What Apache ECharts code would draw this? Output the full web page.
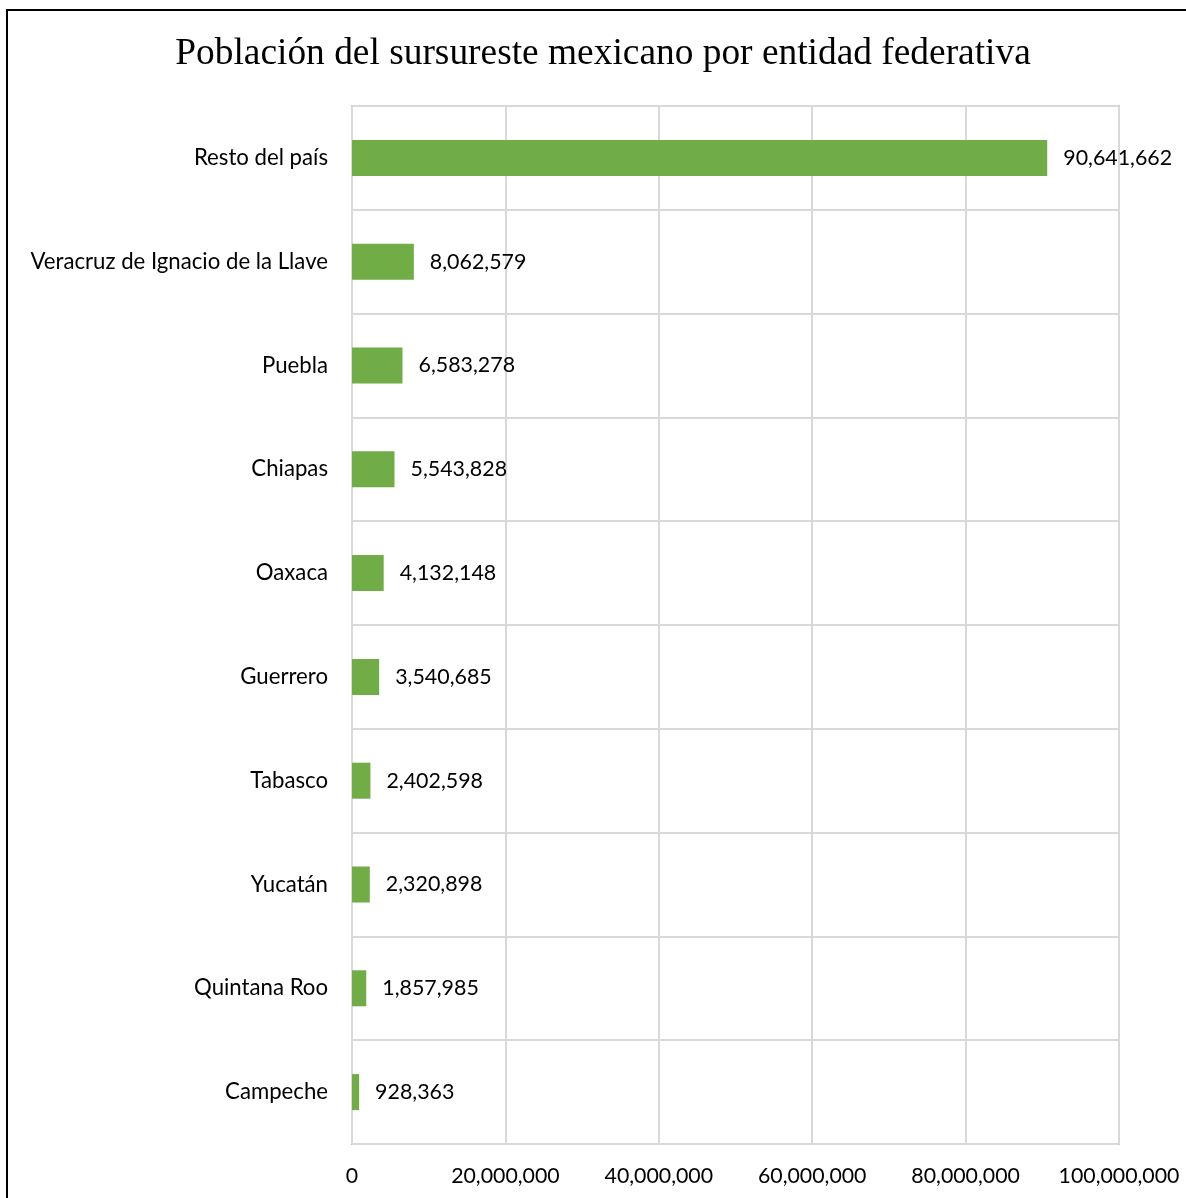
<!DOCTYPE html>
<html>
<head>
<meta charset="utf-8">
<script src="https://cdn.jsdelivr.net/npm/echarts@6/dist/echarts.min.js"></script>
<style>
  html, body { margin: 0; padding: 0; background: #fff; }
  #chart { width: 1186px; height: 1198px; }
</style>
</head>
<body>
<div id="chart"></div>
<script>
// Población por entidad federativa (sursureste) y resto del país
const entidades = [
  'Resto del país',
  'Veracruz de Ignacio de la Llave',
  'Puebla',
  'Chiapas',
  'Oaxaca',
  'Guerrero',
  'Tabasco',
  'Yucatán',
  'Quintana Roo',
  'Campeche'
];
const poblacion = [
  90641662,
  8062579,
  6583278,
  5543828,
  4132148,
  3540685,
  2402598,
  2320898,
  1857985,
  928363
];
const ejeMax = 100000000;
const ejeIntervalo = 20000000;

const fmt = v => v.toLocaleString('en-US');
const labelFont = 'Lato, "Open Sans", sans-serif';

const chart = echarts.init(document.getElementById('chart'));
chart.setOption({
  backgroundColor: '#ffffff',
  animation: false,
  title: {
    text: 'Población del sursureste mexicano por entidad federativa',
    left: 598,
    textAlign: 'center',
    top: 31,
    textStyle: {
      fontFamily: '"Liberation Serif", "Times New Roman", serif',
      fontWeight: 'normal',
      fontSize: 37.4,
      color: '#000'
    }
  },
  graphic: [{
    type: 'rect',
    shape: { x: 7, y: 10, width: 1200, height: 1220 },
    style: { fill: 'none', stroke: '#000', lineWidth: 2 },
    silent: true
  }],
  grid: {
    left: 352,
    right: 67,
    top: 106,
    bottom: 54,
    show: true,
    borderColor: '#c6c6c6',
    borderWidth: 2,
    containLabel: false
  },
  xAxis: {
    type: 'value',
    min: 0,
    max: ejeMax,
    interval: ejeIntervalo,
    axisLine: { show: false },
    axisTick: { show: false },
    splitLine: { show: true, lineStyle: { color: '#d9d9d9', width: 2 } },
    axisLabel: {
      margin: 22,
      color: '#000',
      fontFamily: labelFont,
      fontSize: 21.3,
      formatter: v => fmt(v)
    }
  },
  yAxis: {
    type: 'category',
    data: entidades,
    inverse: true,
    axisLine: { show: false },
    axisTick: { show: false },
    splitLine: { show: true, lineStyle: { color: '#d9d9d9', width: 2 } },
    axisLabel: {
      margin: 24,
      color: '#000',
      fontFamily: labelFont,
      fontSize: 22.2
    }
  },
  series: [{
    type: 'bar',
    data: poblacion,
    barWidth: 36,
    itemStyle: { color: '#70ad47' },
    label: {
      show: true,
      position: 'right',
      distance: 16,
      color: '#000',
      fontFamily: labelFont,
      fontSize: 21.4,
      formatter: p => fmt(p.value)
    }
  }]
});
</script>
</body>
</html>
